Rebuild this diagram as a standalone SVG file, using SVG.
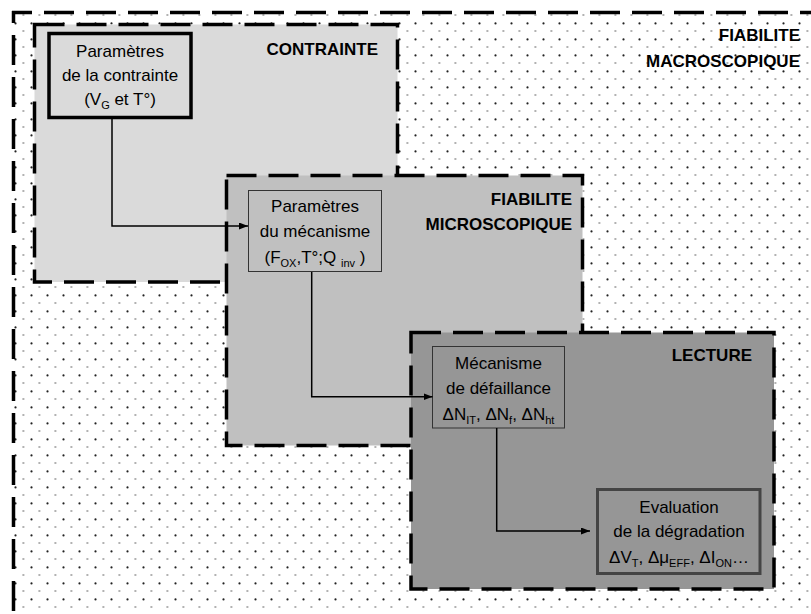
<svg xmlns="http://www.w3.org/2000/svg" width="811" height="614" viewBox="0 0 811 614">
<style>
.frame{stroke:#000;stroke-width:3.5;stroke-dasharray:30 12;}
.lbl{font-family:"Liberation Sans",Arial,sans-serif;font-size:17px;font-weight:bold;fill:#000;text-anchor:end;}
.txt{font-family:"Liberation Sans",Arial,sans-serif;font-size:17px;fill:#000;text-anchor:middle;}
.sub{font-size:11px;}
.conn{fill:none;stroke:#000;stroke-width:1.5;}
</style>
<defs>
<pattern id="dots" patternUnits="userSpaceOnUse" x="4" y="0" width="16" height="16">
<circle cx="11.5" cy="7.4" r="1.1" fill="#222"/>
<rect x="2.4" y="14.5" width="2" height="1" fill="#666"/>
</pattern>
<marker id="arr" markerUnits="userSpaceOnUse" markerWidth="9" markerHeight="7" refX="9" refY="3.5" orient="auto">
<path d="M0,0 L9,3.5 L0,7 z" fill="#000"/>
</marker>
</defs>
<rect width="811" height="614" fill="#fff"/>
<g id="macro">
<rect x="13.5" y="12.5" width="900" height="700" fill="url(#dots)"/>
<line x1="12" y1="12.5" x2="811" y2="12.5" class="frame" stroke-dashoffset="10"/>
<line x1="13.5" y1="11" x2="13.5" y2="614" class="frame" stroke-dashoffset="18"/>
<text class="lbl" x="800" y="40.5">FIABILITE</text>
<text class="lbl" x="800" y="66.5">MACROSCOPIQUE</text>
</g>
<g id="contrainte">
<rect x="34.5" y="24.5" width="363" height="257.5" fill="#dadada" class="frame"/>
<text class="lbl" x="378" y="55">CONTRAINTE</text>
</g>
<g id="micro">
<rect x="226.5" y="175.5" width="356" height="270" fill="#c0c0c0" class="frame"/>
<text class="lbl" x="572" y="205">FIABILITE</text>
<text class="lbl" x="572" y="230">MICROSCOPIQUE</text>
</g>
<g id="lecture">
<rect x="411" y="332.5" width="363" height="256.5" fill="#969696" class="frame"/>
<text class="lbl" x="752" y="361">LECTURE</text>
</g>
<g id="node-contrainte">
<rect x="49" y="33.5" width="142" height="84" fill="#dadada" stroke="#000" stroke-width="3.5"/>
<text class="txt" x="120" y="57">Paramètres</text>
<text class="txt" x="120" y="81">de la contrainte</text>
<text class="txt" x="120" y="104.5">(V<tspan class="sub" dy="4">G</tspan><tspan dy="-4"> et T°)</tspan></text>
</g>
<g id="node-mecanisme">
<rect x="248.5" y="190.5" width="133" height="81" fill="#c0c0c0" stroke="#333" stroke-width="1"/>
<text class="txt" x="315" y="212">Paramètres</text>
<text class="txt" x="315" y="237">du mécanisme</text>
<text class="txt" x="315" y="263">(F<tspan class="sub" dy="4">OX</tspan><tspan dy="-4">,T°;Q </tspan><tspan class="sub" dy="4">inv</tspan><tspan dy="-4"> )</tspan></text>
</g>
<g id="node-defaillance">
<rect x="432.5" y="346.5" width="132" height="81.5" fill="#969696" stroke="#333" stroke-width="1"/>
<text class="txt" x="498.5" y="369">Mécanisme</text>
<text class="txt" x="498.5" y="394">de défaillance</text>
<text class="txt" x="498.5" y="420">ΔN<tspan class="sub" dy="4">IT</tspan><tspan dy="-4">, ΔN</tspan><tspan class="sub" dy="4">f</tspan><tspan dy="-4">, ΔN</tspan><tspan class="sub" dy="4">ht</tspan></text>
</g>
<g id="node-evaluation">
<rect x="597.5" y="489.5" width="162.5" height="84" fill="#969696" stroke="#444" stroke-width="3"/>
<text class="txt" x="679" y="513">Evaluation</text>
<text class="txt" x="679" y="537">de la dégradation</text>
<text class="txt" x="679" y="562.5">ΔV<tspan class="sub" dy="4">T</tspan><tspan dy="-4">, Δμ</tspan><tspan class="sub" dy="4">EFF</tspan><tspan dy="-4">, ΔI</tspan><tspan class="sub" dy="4">ON</tspan><tspan dy="-4">…</tspan></text>
</g>
<g id="connectors">
<path class="conn" d="M112,119 V226 H248" marker-end="url(#arr)"/>
<path class="conn" d="M311.7,272 V396.7 H432.5" marker-end="url(#arr)"/>
<path class="conn" d="M496.7,428 V531 H590" marker-end="url(#arr)"/>
</g>
</svg>
